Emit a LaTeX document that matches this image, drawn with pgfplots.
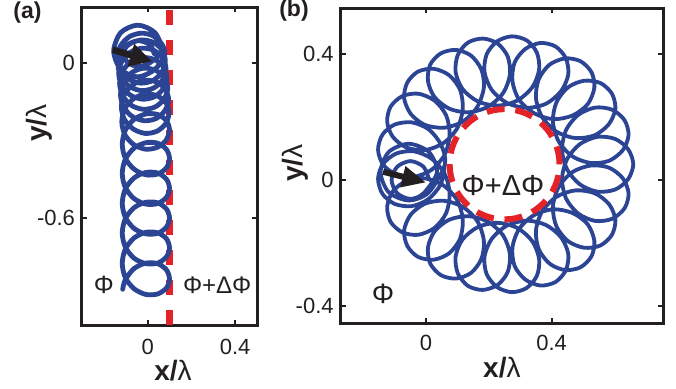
\documentclass[border=0pt]{standalone}
\usepackage{fontspec}
\setmainfont{Liberation Sans}
\usepackage{pgfplots}
\pgfplotsset{compat=1.18}
\usetikzlibrary{arrows.meta}
\definecolor{traj}{RGB}{43,68,148}
\definecolor{dred}{RGB}{228,35,40}
\definecolor{frame}{RGB}{35,31,32}
\begin{document}
\begin{tikzpicture}
\useasboundingbox (0pt,0pt) rectangle (338pt,194pt);
\pgfplotsset{
 every axis/.append style={
   scale only axis,
   axis line style={frame, line width=1.5pt},
   tick style={frame, line width=1pt},
   major tick length=2.5pt, tick align=inside,
   ticklabel style={font=\fontsize{11}{13}\selectfont, text=frame},
   label style={font=\fontsize{14}{16}\selectfont, text=frame},
 }
}
\begin{axis}[at={(41pt,31.5pt)}, anchor=south west, width=87.5pt, height=159pt,
  xmin=-0.3, xmax=0.5, ymin=-1.013, ymax=0.215,
  xtick={0,0.4}, xticklabels={0,0.4}, ytick={-0.6,0}, yticklabels={-0.6,0},
  xticklabel style={yshift=-3.75pt},
  xlabel={\textbf{x/}λ}, ylabel={\textbf{y/}λ},
  xlabel style={at={(axis description cs:0.52,-0.142)}, anchor=center},
  ylabel style={at={(axis description cs:-0.246,0.635)}, anchor=center},
]
\addplot[dred, line width=3.3pt, dash pattern=on 7.5pt off 7.5pt, dash phase=13.5pt] coordinates {(0.1,0.215) (0.1,-1.013)};
\addplot[traj, line width=2.4pt, smooth, line join=round, line cap=round] coordinates {
(0.030,0.035) (0.010,0.070) (-0.040,0.085) (-0.090,0.070) (-0.110,0.035) (-0.090,0.000) (-0.040,-0.015) (0.010,0.000)
(0.065,0.045) (0.033,0.116) (-0.045,0.145) (-0.123,0.116) (-0.155,0.045) (-0.123,-0.026) (-0.045,-0.055) (0.033,-0.026)
(0.078,0.030) (0.064,0.073) (0.024,0.104) (-0.030,0.114) (-0.084,0.100) (-0.124,0.065) (-0.138,0.018) (-0.124,-0.030) (-0.084,-0.065) (-0.030,-0.079) (0.024,-0.069) (0.064,-0.038)
(0.081,0.005) (0.067,0.048) (0.027,0.078) (-0.027,0.088) (-0.081,0.073) (-0.121,0.038) (-0.135,-0.010) (-0.121,-0.058) (-0.081,-0.093) (-0.027,-0.108) (0.027,-0.098) (0.067,-0.068)
(0.084,-0.025) (0.070,0.017) (0.030,0.047) (-0.024,0.056) (-0.078,0.041) (-0.118,0.005) (-0.132,-0.043) (-0.118,-0.090) (-0.078,-0.126) (-0.024,-0.141) (0.030,-0.132) (0.070,-0.102)
(0.088,-0.060) (0.074,-0.018) (0.034,0.011) (-0.020,0.020) (-0.074,0.005) (-0.114,-0.032) (-0.128,-0.080) (-0.114,-0.128) (-0.074,-0.165) (-0.020,-0.180) (0.034,-0.171) (0.074,-0.142)
(0.092,-0.100) (0.078,-0.059) (0.038,-0.030) (-0.016,-0.021) (-0.070,-0.037) (-0.110,-0.074) (-0.124,-0.123) (-0.110,-0.171) (-0.070,-0.208) (-0.016,-0.224) (0.038,-0.216) (0.078,-0.186)
(0.096,-0.145) (0.082,-0.104) (0.042,-0.075) (-0.012,-0.068) (-0.066,-0.084) (-0.106,-0.121) (-0.120,-0.170) (-0.106,-0.219) (-0.066,-0.256) (-0.012,-0.273) (0.042,-0.265) (0.082,-0.236)
(0.098,-0.195) (0.084,-0.155) (0.044,-0.128) (-0.010,-0.121) (-0.064,-0.139) (-0.104,-0.177) (-0.118,-0.228) (-0.104,-0.278) (-0.064,-0.316) (-0.010,-0.334) (0.044,-0.327) (0.084,-0.300)
(0.100,-0.260) (0.086,-0.224) (0.046,-0.200) (-0.008,-0.198) (-0.062,-0.219) (-0.102,-0.261) (-0.116,-0.315) (-0.102,-0.369) (-0.062,-0.411) (-0.008,-0.433) (0.046,-0.430) (0.086,-0.406)
(0.100,-0.370) (0.086,-0.335) (0.046,-0.311) (-0.008,-0.309) (-0.062,-0.330) (-0.102,-0.373) (-0.116,-0.428) (-0.102,-0.482) (-0.062,-0.525) (-0.008,-0.546) (0.046,-0.544) (0.086,-0.520)
(0.100,-0.485) (0.086,-0.450) (0.046,-0.426) (-0.008,-0.424) (-0.062,-0.445) (-0.102,-0.488) (-0.116,-0.543) (-0.102,-0.597) (-0.062,-0.640) (-0.008,-0.661) (0.046,-0.659) (0.086,-0.635)
(0.100,-0.600) (0.086,-0.565) (0.046,-0.541) (-0.008,-0.539) (-0.062,-0.560) (-0.102,-0.603) (-0.116,-0.658) (-0.102,-0.712) (-0.062,-0.755) (-0.008,-0.776) (0.046,-0.774) (0.086,-0.750)
(0.100,-0.715) (0.086,-0.680) (0.046,-0.657) (-0.008,-0.655) (-0.062,-0.677) (-0.102,-0.720) (-0.116,-0.775) (-0.102,-0.830) (-0.062,-0.873) (-0.008,-0.895) (0.046,-0.893) (0.086,-0.870)
(0.100,-0.835) (0.086,-0.800) (0.046,-0.776) (-0.008,-0.774) (-0.062,-0.795) (-0.102,-0.838) (-0.114,-0.875)
};
\draw[frame, line width=3.3pt, -{Triangle[length=11pt,width=11pt]}] (axis cs:-0.16,0.05) -- (axis cs:0.02,0.005);
\node[text=frame, font=\fontsize{12.5}{14}\selectfont] at (axis cs:-0.2,-0.858) {Φ};
\node[text=frame, font=\fontsize{12}{14}\selectfont] at (axis cs:0.318,-0.858) {Φ+ΔΦ};
\end{axis}
\begin{axis}[at={(170.35pt,32.5pt)}, anchor=south west, width=161.2pt, height=157.5pt,
  xmin=-0.272, xmax=0.755, ymin=-0.454, ymax=0.546,
  xtick={0,0.4}, xticklabels={0,0.4}, ytick={-0.4,0,0.4}, yticklabels={-0.4,0,0.4},
  xticklabel style={yshift=-2.75pt},
  xlabel={\textbf{x/}λ}, ylabel={\textbf{y/}λ},
  xlabel style={at={(axis description cs:0.5,-0.143)}, anchor=center},
  ylabel style={at={(axis description cs:-0.142,0.508)}, anchor=center},
]
\addplot[traj, line width=1.9pt, smooth, line join=round, line cap=round] coordinates {
(0.010,0.000) (-0.008,0.042) (-0.050,0.060) (-0.092,0.042) (-0.110,0.000) (-0.092,-0.042) (-0.050,-0.060) (-0.008,-0.042)
(0.035,0.025) (0.009,0.089) (-0.055,0.115) (-0.119,0.089) (-0.145,0.025) (-0.119,-0.039) (-0.055,-0.065) (0.009,-0.039)
(0.060,0.050) (0.047,0.113) (0.008,0.161) (-0.046,0.183) (-0.100,0.176) (-0.139,0.144) (-0.153,0.096) (-0.137,0.049) (-0.095,0.017) (-0.039,0.010) (0.017,0.032) (0.059,0.080)
(0.075,0.143) (0.064,0.205) (0.027,0.252) (-0.025,0.274) (-0.076,0.266) (-0.113,0.233) (-0.124,0.185) (-0.106,0.137) (-0.062,0.103) (-0.003,0.095) (0.055,0.117) (0.099,0.164)
(0.117,0.226) (0.108,0.287) (0.073,0.333) (0.024,0.353) (-0.026,0.344) (-0.060,0.309) (-0.070,0.260) (-0.049,0.210) (-0.004,0.175) (0.057,0.166) (0.118,0.186) (0.163,0.232)
(0.184,0.293) (0.176,0.351) (0.143,0.395) (0.095,0.413) (0.047,0.402) (0.013,0.366) (0.006,0.314) (0.027,0.263) (0.075,0.226) (0.136,0.215) (0.198,0.233) (0.246,0.277)
(0.267,0.335) (0.260,0.392) (0.228,0.433) (0.181,0.449) (0.133,0.436) (0.101,0.397) (0.094,0.343) (0.116,0.289) (0.164,0.250) (0.227,0.236) (0.290,0.252) (0.338,0.294)
(0.360,0.350) (0.353,0.404) (0.321,0.443) (0.273,0.456) (0.226,0.440) (0.193,0.399) (0.186,0.343) (0.209,0.286) (0.257,0.245) (0.320,0.229) (0.382,0.242) (0.430,0.282)
(0.453,0.335) (0.445,0.387) (0.412,0.424) (0.364,0.435) (0.316,0.416) (0.282,0.373) (0.275,0.314) (0.296,0.255) (0.344,0.212) (0.405,0.193) (0.467,0.205) (0.515,0.241)
(0.536,0.293) (0.527,0.342) (0.492,0.377) (0.443,0.386) (0.393,0.366) (0.359,0.320) (0.350,0.260) (0.370,0.199) (0.416,0.153) (0.476,0.133) (0.537,0.142) (0.582,0.177)
(0.603,0.226) (0.592,0.274) (0.555,0.308) (0.503,0.315) (0.452,0.294) (0.415,0.246) (0.404,0.185) (0.422,0.123) (0.466,0.075) (0.525,0.054) (0.583,0.061) (0.627,0.095)
(0.645,0.143) (0.632,0.190) (0.593,0.223) (0.539,0.230) (0.485,0.207) (0.446,0.159) (0.433,0.096) (0.449,0.034) (0.490,-0.014) (0.546,-0.037) (0.603,-0.030) (0.644,0.003)
(0.660,0.050) (0.644,0.097) (0.603,0.130) (0.546,0.137) (0.490,0.114) (0.449,0.066) (0.433,0.004) (0.446,-0.059) (0.485,-0.107) (0.539,-0.130) (0.593,-0.123) (0.632,-0.090)
(0.645,-0.043) (0.627,0.005) (0.583,0.039) (0.525,0.046) (0.466,0.025) (0.422,-0.023) (0.404,-0.085) (0.415,-0.147) (0.452,-0.194) (0.503,-0.215) (0.555,-0.208) (0.592,-0.174)
(0.603,-0.126) (0.583,-0.077) (0.537,-0.042) (0.476,-0.033) (0.416,-0.053) (0.370,-0.099) (0.350,-0.160) (0.359,-0.220) (0.394,-0.266) (0.443,-0.286) (0.492,-0.277) (0.527,-0.242)
(0.536,-0.193) (0.515,-0.141) (0.467,-0.105) (0.405,-0.093) (0.343,-0.112) (0.296,-0.156) (0.275,-0.214) (0.282,-0.273) (0.316,-0.316) (0.364,-0.335) (0.412,-0.324) (0.445,-0.287)
(0.453,-0.235) (0.430,-0.182) (0.382,-0.143) (0.320,-0.129) (0.257,-0.145) (0.209,-0.187) (0.186,-0.243) (0.193,-0.299) (0.226,-0.340) (0.273,-0.356) (0.320,-0.343) (0.353,-0.304)
(0.360,-0.250) (0.338,-0.194) (0.290,-0.152) (0.227,-0.136) (0.164,-0.150) (0.116,-0.189) (0.094,-0.243) (0.101,-0.296) (0.133,-0.336) (0.180,-0.349) (0.228,-0.333) (0.260,-0.292)
(0.267,-0.235) (0.246,-0.177) (0.198,-0.133) (0.136,-0.115) (0.074,-0.126) (0.027,-0.163) (0.006,-0.214) (0.013,-0.265) (0.047,-0.302) (0.095,-0.313) (0.143,-0.295) (0.176,-0.251)
(0.184,-0.193) (0.164,-0.132) (0.118,-0.086) (0.057,-0.066) (-0.003,-0.075) (-0.049,-0.110) (-0.070,-0.160) (-0.060,-0.209) (-0.026,-0.244) (0.024,-0.253) (0.073,-0.233) (0.108,-0.187)
(0.117,-0.126) (0.099,-0.064) (0.055,-0.017) (-0.003,0.005) (-0.062,-0.003) (-0.106,-0.036) (-0.124,-0.085) (-0.113,-0.133) (-0.076,-0.166) (-0.025,-0.174) (0.027,-0.152) (0.064,-0.105)
(0.075,-0.043) (0.059,0.020) (0.017,0.068) (-0.039,0.091) (-0.095,0.084) (-0.137,0.051) (-0.153,0.004) (-0.139,-0.044) (-0.100,-0.076) (-0.046,-0.083) (0.007,-0.061) (0.047,-0.013)
(0.060,0.050)
};
\draw[dred, line width=3pt, dash pattern=on 9pt off 5.4pt] (axis cs:0.25,0.05) ellipse [x radius=0.175, y radius=0.175];
\draw[frame, line width=3pt, -{Triangle[length=12pt,width=10pt]}] (axis cs:-0.137,0.026) -- (axis cs:0.0,-0.008);
\node[text=frame, font=\fontsize{14.5}{16}\selectfont] at (axis cs:0.245,-0.016) {Φ+ΔΦ};
\node[text=frame, font=\fontsize{14}{16}\selectfont] at (axis cs:-0.137,-0.36) {Φ};
\end{axis}
\node[text=frame, font=\bfseries\fontsize{11.5}{13}\selectfont] at (13.75pt,187.5pt) {(a)};
\node[text=frame, font=\bfseries\fontsize{11.5}{13}\selectfont] at (147pt,188.5pt) {(b)};
\end{tikzpicture}
\end{document}
